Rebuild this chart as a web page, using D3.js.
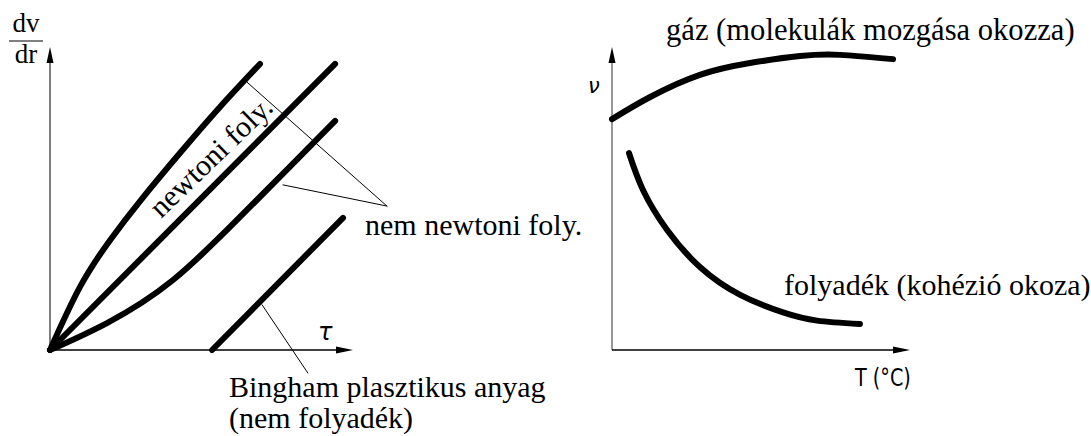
<!DOCTYPE html>
<html>
<head>
<meta charset="utf-8">
<script src="https://cdn.jsdelivr.net/npm/d3@7"></script>
<style>
  body { margin: 0; background: #fff; }
</style>
</head>
<body>
<svg id="chart"></svg>
<script>
var width = 1091, height = 436;
var serif = "'Liberation Serif', 'Times New Roman', Times, serif";

// Left panel: shear rate vs shear stress (tau, dv/dr), arbitrary units 0..10
var dilatant = [[0, 0], [1, 2.1], [2, 3.65], [3, 4.95], [4.29, 6.50], [5.61, 8.02], [6.93, 9.44]];
var newtonian = [[0, 0], [9.41, 9.44]];
var pseudo = [[0, 0], [1.88, 0.89], [4.06, 2.31], [6.27, 4.39], [7.92, 6.05], [9.41, 7.56]];
var bingham = [[5.35, 0], [9.67, 4.36]];

// Right panel: viscosity vs temperature
var gas = [[0, 7.62], [1.28, 8.35], [2.95, 9.08], [4.63, 9.47], [6.31, 9.70], [7.65, 9.74], [9.43, 9.60]];
var liquid = [[0.57, 6.50], [1.04, 5.28], [1.85, 3.96], [2.95, 2.74], [4.30, 1.82], [5.74, 1.24], [6.88, 0.97], [8.32, 0.86]];

// Pointer lines (from a curve to its label)
var nemNewtoniPointers = [[[6.50, 8.84], [11.12, 4.75]], [[7.69, 5.45], [11.12, 4.75]]];
var binghamPointer = [[7.0, 1.49], [8.51, -0.76]];

var svg = d3.select("#chart")
  .attr("width", width)
  .attr("height", height);

// Scales
var xL = d3.scaleLinear().domain([0, 10]).range([50, 353]);
var yL = d3.scaleLinear().domain([0, 10]).range([350, 47]);
var xR = d3.scaleLinear().domain([0, 10]).range([612, 910]);
var yR = d3.scaleLinear().domain([0, 10]).range([350, 47]);

function drawAxes(x, y, yColor) {
  // y axis
  svg.append("line")
    .attr("x1", x(0)).attr("y1", y(0))
    .attr("x2", x(0)).attr("y2", y(10) + 10)
    .attr("stroke", yColor).attr("stroke-width", 1.5);
  svg.append("path")
    .attr("d", "M" + x(0) + "," + y(10) + " l-3.5,16 l7,0 z")
    .attr("fill", "#000");
  // x axis
  svg.append("line")
    .attr("x1", x(0)).attr("y1", y(0))
    .attr("x2", x(10) - 10).attr("y2", y(0))
    .attr("stroke", "#000").attr("stroke-width", 1.5);
  svg.append("path")
    .attr("d", "M" + x(10) + "," + y(0) + " l-17,-3.5 l0,7 z")
    .attr("fill", "#000");
}

drawAxes(xL, yL, "#555");
drawAxes(xR, yR, "#777");

function curve(data, x, y, w, smooth) {
  var line = d3.line()
    .x(function (d) { return x(d[0]); })
    .y(function (d) { return y(d[1]); })
    .curve(smooth ? d3.curveNatural : d3.curveLinear);
  svg.append("path")
    .datum(data)
    .attr("d", line)
    .attr("fill", "none")
    .attr("stroke", "#000")
    .attr("stroke-width", w)
    .attr("stroke-linecap", "round");
}

curve(dilatant, xL, yL, 6, true);
curve(newtonian, xL, yL, 6, false);
curve(pseudo, xL, yL, 6, true);
curve(bingham, xL, yL, 6, false);
curve(gas, xR, yR, 6, true);
curve(liquid, xR, yR, 6, true);

nemNewtoniPointers.forEach(function (p) { curve(p, xL, yL, 1, false); });
curve(binghamPointer, xL, yL, 1, false);

function label(x, y, txt, size, family) {
  return svg.append("text")
    .attr("x", x).attr("y", y)
    .attr("font-family", family || serif)
    .attr("font-size", size)
    .attr("fill", "#000")
    .text(txt);
}

// dv/dr fraction
label(26, 32, "dv", 27).attr("text-anchor", "middle");
svg.append("line").attr("x1", 9).attr("x2", 43).attr("y1", 41).attr("y2", 41)
  .attr("stroke", "#000").attr("stroke-width", 1.2);
label(26, 63, "dr", 27).attr("text-anchor", "middle");

label(318, 340, "τ", 24, "DejaVu Sans").attr("font-style", "italic");

label(0, 0, "newtoni foly.", 30)
  .attr("transform", "translate(161,219) rotate(-44)");

label(365, 235, "nem newtoni foly.", 30);
label(229, 397, "Bingham plasztikus anyag", 30);
label(229, 428, "(nem folyadék)", 30);

label(588, 93, "ν", 21, "DejaVu Sans").attr("font-style", "italic");

label(666, 40, "gáz (molekulák mozgása okozza)", 30.6);
label(784, 295, "folyadék (kohézió okoza)", 30);

label(0, 0, "T (°C)", 24, "'DejaVu Sans', sans-serif")
  .attr("transform", "translate(855,386) scale(0.8,1)");
</script>
</body>
</html>
